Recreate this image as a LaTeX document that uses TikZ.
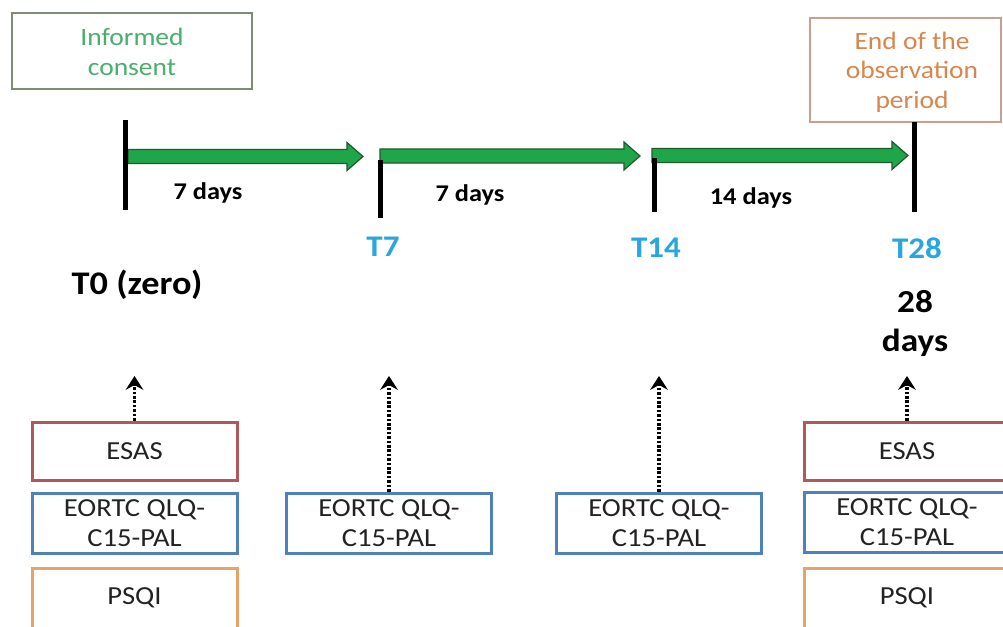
\documentclass[tikz,border=0pt]{standalone}
\usepackage{fontspec}
\setmainfont{Carlito}[FakeStretch=1.1]
\usetikzlibrary{calc,arrows.meta}
\definecolor{cgreen}{HTML}{4AAE6C}
\definecolor{cgreenbox}{HTML}{7E8C72}
\definecolor{corange}{HTML}{D8864C}
\definecolor{corangebox}{HTML}{C8A090}
\definecolor{cblue}{HTML}{2AA6DF}
\definecolor{cesas}{HTML}{B0585A}
\definecolor{ceortc}{HTML}{4F81BD}
\definecolor{cpsqi}{HTML}{E8A464}
\definecolor{arrfill}{HTML}{20A64A}
\definecolor{arrline}{HTML}{1C5C2C}
\definecolor{ctext}{HTML}{222222}
\tikzset{
  topbox/.style={draw, line width=1.5pt, rectangle, inner sep=0pt},
  inbox/.style={rectangle, draw, line width=3pt, minimum width=205pt, inner sep=0pt,
    align=center, text=ctext, font=\fontsize{26}{30}\selectfont},
  bar/.style={line width=5pt, black},
  garrowstyle/.style={fill=arrfill, draw=arrline, line width=1.2pt, line join=miter},
  dotarrow/.style={line width=3.2pt, dash pattern=on 2.6pt off 1.8pt,
    -{Stealth[length=14pt,width=18pt,inset=5pt,line width=0pt]}},
  daylbl/.style={font=\bfseries\fontsize{24}{28}\selectfont, text=black, inner sep=0pt},
  tlbl/.style={font=\bfseries\fontsize{30}{34}\selectfont, text=cblue, inner sep=0pt},
}
\newcommand\greenarrow[2]{%
  \draw[garrowstyle] ($(#1)+(0,-7)$) -- ($(#2)+(-16,-7)$) -- ($(#2)+(-16,-14)$) -- (#2)
    -- ($(#2)+(-16,14)$) -- ($(#2)+(-16,7)$) -- ($(#1)+(0,7)$) -- cycle;}
\begin{document}
\begin{tikzpicture}[x=1pt,y=-1pt]
\useasboundingbox (0,0) rectangle (1003,626);
\clip (0,0) rectangle (1003,626);
\fill[white] (0,0) rectangle (1003,626);

% top boxes
\node[topbox, draw=cgreenbox, minimum width=240pt, minimum height=76pt] (consentbox) at (132,51) {};
\node[text=cgreen, align=center, font=\fontsize{25}{30}\selectfont, inner sep=0pt] (consent) at (132,52) {Informed\\consent};
\node[topbox, draw=corangebox, minimum width=191pt, minimum height=104pt] (endbox) at (905.5,70) {};
\node[text=corange, align=center, font=\fontsize{25}{29.5}\selectfont, inner sep=0pt] (endtxt) at (912,72) {End of the\\observation\\period};

% bars
\coordinate (b1t) at (125,120); \coordinate (b1b) at (125,210);
\coordinate (b2t) at (380,160); \coordinate (b2b) at (380,218);
\coordinate (b3t) at (654,158); \coordinate (b3b) at (654,212);
\coordinate (b4t) at (914,122); \coordinate (b4b) at (914,212);

% arrows
\coordinate (a1s) at (128,156.5); \coordinate (a1e) at (363,156.5);
\coordinate (a2s) at (380,156); \coordinate (a2e) at (640,156);
\coordinate (a3s) at (652,155.5); \coordinate (a3e) at (908,155.5);
\greenarrow{a1s}{a1e}
\greenarrow{a2s}{a2e}
\greenarrow{a3s}{a3e}
\draw[bar] (b1t) -- (b1b);
\draw[bar] (b2t) -- (b2b);
\draw[bar] (b3t) -- (b3b);
\draw[bar] (b4t) -- (b4b);

% day labels
\node[daylbl] (d1) at (208,193) {7 days};
\node[daylbl] (d2) at (470,195) {7 days};
\node[daylbl] (d3) at (751,198) {14 days};

% time labels
\node[tlbl] (t7) at (383,247) {T7};
\node[tlbl] (t14) at (656,248) {T14};
\node[tlbl] (t28) at (917,248) {T28};
\node[font=\bfseries\fontsize{33}{36}\selectfont, inner sep=0pt] (t0) at (137,285) {T0 (zero)};
\node[font=\bfseries\fontsize{32}{39}\selectfont, align=center, inner sep=0pt] (d28) at (915,323) {28\\days};

% instrument boxes
\node[inbox, draw=cesas, minimum height=58pt] (esas1) at (134.5,451) {ESAS};
\node[inbox, draw=ceortc, minimum height=60pt] (eortc1) at (134.5,523) {EORTC QLQ-\\C15-PAL};
\node[inbox, draw=cpsqi, minimum height=60pt] (psqi1) at (134.5,598) {PSQI};

\node[inbox, draw=ceortc, minimum height=60pt] (eortc2) at (389,523) {EORTC QLQ-\\C15-PAL};
\node[inbox, draw=ceortc, minimum height=60pt] (eortc3) at (659,523) {EORTC QLQ-\\C15-PAL};

\node[inbox, draw=cesas, minimum height=58pt] (esas4) at (907,451) {ESAS};
\node[inbox, draw=ceortc, minimum height=60pt] (eortc4) at (907,522) {EORTC QLQ-\\C15-PAL};
\node[inbox, draw=cpsqi, minimum height=60pt] (psqi4) at (907,598) {PSQI};

% dotted arrows
\coordinate (p1) at (134.5,376);
\coordinate (p2) at (389,376);
\coordinate (p3) at (659,376);
\coordinate (p4) at (907,376);
\draw[dotarrow] (esas1.north) -- (p1);
\draw[dotarrow] (eortc2.north) -- (p2);
\draw[dotarrow] (eortc3.north) -- (p3);
\draw[dotarrow] (esas4.north) -- (p4);
\end{tikzpicture}
\end{document}
